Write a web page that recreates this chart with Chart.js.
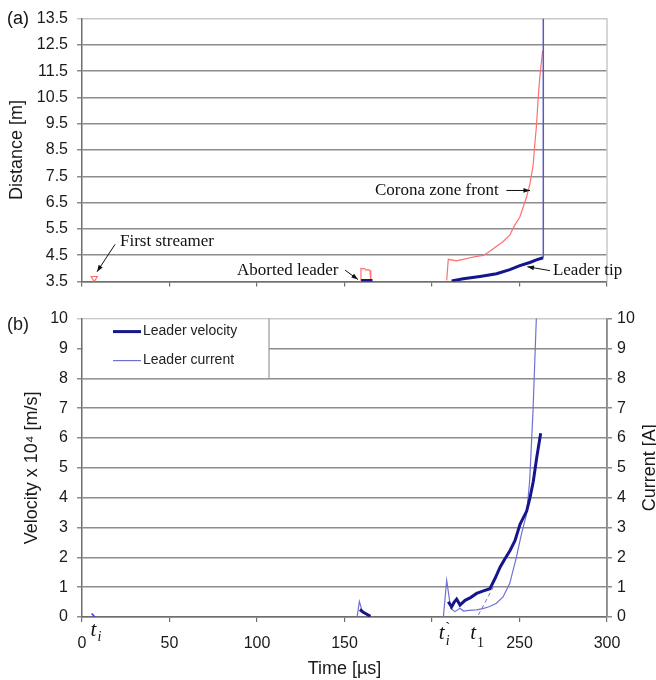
<!DOCTYPE html>
<html>
<head>
<meta charset="utf-8">
<script src="https://cdn.jsdelivr.net/npm/chart.js@4.4.1/dist/chart.umd.min.js"></script>
<style>
  body { margin: 0; background: #fff; width: 656px; height: 680px; overflow: hidden; position: relative; }
  canvas { position: absolute; left: 0; }
  #chartA { top: 0; }
  #chartB { top: 300px; }
</style>
</head>
<body>
<canvas id="chartA" width="656" height="300"></canvas>
<canvas id="chartB" width="656" height="380"></canvas>
<script>
// ---- panel (a): distance vs time ----
const timeTicks = [0, 50, 100, 150, 200, 250, 300];
const hiddenTimeLabels = [200]; // replaced by the t'i / t1 marks
const distTicks = [3.5, 4.5, 5.5, 6.5, 7.5, 8.5, 9.5, 10.5, 11.5, 12.5, 13.5];

const streamerT = [7];
const streamerD = [3.62];
const abortCoronaT = [159, 159.4, 160.2, 161.5, 162.3, 163.5, 164.6, 165];
const abortCoronaD = [3.5, 4.0, 3.98, 3.99, 3.93, 3.95, 3.92, 3.5];
const abortLeaderT = [159.5, 166];
const abortLeaderD = [3.53, 3.53];
const coronaT = [208.4, 209.3, 214.1, 217.9, 221.7, 225.5, 229.3, 233.1, 236.9, 240.7, 244.5, 247.3, 250.2, 254.0, 255.9, 257.8, 258.7, 259.7, 260.6, 261.6, 263.2];
const coronaD = [3.54, 4.34, 4.28, 4.34, 4.40, 4.45, 4.49, 4.65, 4.84, 5.02, 5.27, 5.64, 5.95, 6.70, 7.19, 7.93, 8.68, 9.42, 10.41, 11.28, 12.27];
const tipT = [211.2, 217.9, 227.4, 236.9, 244.5, 250.2, 255.9, 259.7, 263.5];
const tipD = [3.52, 3.60, 3.69, 3.79, 3.95, 4.10, 4.22, 4.32, 4.40];
const jumpT = [263.6, 263.6];
const jumpD = [4.40, 13.5];

// ---- panel (b): velocity and current vs time ----
const velTicks = [0, 1, 2, 3, 4, 5, 6, 7, 8, 9, 10];
const velAbortT = [158.8, 160.5, 162.5, 164.8];
const velAbortV = [0.25, 0.17, 0.10, 0.02];
const velT = [209.3, 211.2, 212.5, 214.1, 216.0, 218.9, 222.0, 225.5, 229.0, 233.1, 236.0, 238.9, 241.7, 244.6, 247.4, 250.3, 252.2, 254.1, 256.0, 257.9, 259.8, 262.1];
const velV = [0.51, 0.34, 0.48, 0.60, 0.40, 0.56, 0.65, 0.79, 0.87, 0.95, 1.29, 1.67, 1.95, 2.23, 2.56, 3.11, 3.33, 3.55, 4.00, 4.55, 5.33, 6.16];
const curBlipT = [5.5, 7.4];
const curBlipV = [0.12, 0.0];
const curAbortT = [157.2, 158.5, 160, 161];
const curAbortV = [0.0, 0.52, 0.22, 0.12];
const curT = [206.5, 208.4, 210.7, 213.1, 216.0, 217.9, 221.0, 225.5, 229.0, 233.0, 236.8, 240.6, 244.4, 248.2, 251.1, 254.0, 255.8, 257.7, 259.6, 260.2];
const curV = [0.0, 1.23, 0.29, 0.18, 0.29, 0.20, 0.22, 0.24, 0.28, 0.35, 0.46, 0.67, 1.12, 2.00, 2.78, 3.44, 4.55, 6.88, 9.98, 10.6];
const tangentT = [226.5, 235];
const tangentV = [0.07, 1.0];

const RED = '#ff6f6f';
const NAVY = '#16168c';
const THIN = '#7070d4';
const VERT = '#5858c8';
const GRID = '#8c8c8c';
const LIGHT = '#c8c8c8';
const AXIS = '#6e6e6e';
const SANS = '"Liberation Sans", Arial, sans-serif';
const SERIF = '"Liberation Serif", "Times New Roman", serif';

Chart.defaults.font.family = SANS;
Chart.defaults.color = '#1a1a1a';

function pts(xs, ys) {
    return xs.map((x, i) => ({ x: x, y: ys[i] }));
}

function arrow(ctx, x1, y1, x2, y2) {
    ctx.beginPath();
    ctx.moveTo(x1, y1);
    ctx.lineTo(x2, y2);
    ctx.stroke();
    const a = Math.atan2(y2 - y1, x2 - x1), h = 7;
    ctx.beginPath();
    ctx.moveTo(x2, y2);
    ctx.lineTo(x2 - h * Math.cos(a - 0.35), y2 - h * Math.sin(a - 0.35));
    ctx.lineTo(x2 - h * Math.cos(a + 0.35), y2 - h * Math.sin(a + 0.35));
    ctx.closePath();
    ctx.fill();
}

// text labels and arrows for panel (a)
const annotA = {
    id: 'annotA',
    afterDraw(chart) {
        const { ctx, chartArea, scales: { x, y } } = chart;
        const px = t => x.getPixelForValue(t), py = d => y.getPixelForValue(d);
        ctx.save();
        // right border
        ctx.strokeStyle = LIGHT;
        ctx.lineWidth = 1.5;
        ctx.beginPath();
        ctx.moveTo(chartArea.right, chartArea.top);
        ctx.lineTo(chartArea.right, chartArea.bottom);
        ctx.stroke();

        ctx.fillStyle = '#111';
        ctx.strokeStyle = '#111';
        ctx.lineWidth = 1;
        ctx.textBaseline = 'middle';
        ctx.font = '17px ' + SERIF;
        ctx.fillText('First streamer', px(21.7), py(5.02));
        arrow(ctx, px(18.9), py(4.91), px(8.6), py(3.87));
        ctx.fillText('Aborted leader', px(88.6), py(3.91));
        arrow(ctx, px(150.3), py(3.93), px(157.7), py(3.57));
        ctx.fillText('Corona zone front', px(167.4), py(6.96));
        arrow(ctx, px(242.5), py(6.96), px(256), py(6.96));
        ctx.fillText('Leader tip', px(269.1), py(3.91));
        arrow(ctx, px(267.4), py(3.91), px(254.5), py(4.06));

        ctx.font = '18px ' + SANS;
        ctx.fillText('(a)', 7, 19);
        ctx.restore();
    }
};

// legend, right title and t labels for panel (b)
const annotB = {
    id: 'annotB',
    afterDraw(chart) {
        const { ctx, chartArea, scales: { x } } = chart;
        const px = t => x.getPixelForValue(t);
        ctx.save();
        // right border
        ctx.strokeStyle = GRID;
        ctx.lineWidth = 1.5;
        ctx.beginPath();
        ctx.moveTo(chartArea.right, chartArea.top);
        ctx.lineTo(chartArea.right, chartArea.bottom);
        ctx.stroke();

        // legend box
        const lx = chartArea.left, ly = chartArea.top;
        ctx.fillStyle = '#fff';
        ctx.fillRect(lx + 1, ly + 1, 186, 59);
        ctx.strokeStyle = '#9a9a9a';
        ctx.lineWidth = 1.2;
        ctx.beginPath();
        ctx.moveTo(lx + 187, ly);
        ctx.lineTo(lx + 187, ly + 60);
        ctx.lineTo(lx, ly + 60);
        ctx.stroke();
        ctx.strokeStyle = NAVY;
        ctx.lineWidth = 3;
        ctx.beginPath();
        ctx.moveTo(lx + 31, ly + 13);
        ctx.lineTo(lx + 59, ly + 13);
        ctx.stroke();
        ctx.strokeStyle = THIN;
        ctx.lineWidth = 1.2;
        ctx.beginPath();
        ctx.moveTo(lx + 31, ly + 42);
        ctx.lineTo(lx + 59, ly + 42);
        ctx.stroke();
        ctx.fillStyle = '#222';
        ctx.font = '14px ' + SANS;
        ctx.textBaseline = 'middle';
        ctx.fillText('Leader velocity', lx + 61, ly + 13);
        ctx.fillText('Leader current', lx + 61, ly + 42);

        // right axis title, reading bottom to top
        ctx.font = '18px ' + SANS;
        ctx.fillStyle = '#1a1a1a';
        ctx.save();
        ctx.translate(650, (chartArea.top + chartArea.bottom) / 2);
        ctx.rotate(-Math.PI / 2);
        ctx.textAlign = 'center';
        ctx.fillText('Current [A]', 0, 0);
        ctx.restore();

        ctx.fillText('(b)', 7, 25);

        // t labels
        ctx.fillStyle = '#111';
        ctx.font = 'italic 21px ' + SERIF;
        ctx.fillText('t', px(4.8), 330);
        ctx.fillText('t', px(203.8), 333);
        ctx.fillText('t', px(221.8), 333);
        ctx.font = 'italic 14px ' + SERIF;
        ctx.fillText('i', px(8.8), 337);
        ctx.fillText('i', px(207.8), 341);
        ctx.font = '15px ' + SERIF;
        ctx.fillText('`', px(207.6), 328);
        ctx.font = '14px ' + SERIF;
        ctx.fillText('1', px(225.7), 343);
        ctx.restore();
    }
};

const tickSet = arr => s => { s.ticks = arr.map(v => ({ value: v })); };

new Chart(document.getElementById('chartA'), {
    type: 'line',
    data: {
        datasets: [
            { data: pts(jumpT, jumpD), borderColor: VERT, borderWidth: 1.5 },
            { data: pts(tipT, tipD), borderColor: NAVY, borderWidth: 3 },
            { data: pts(abortLeaderT, abortLeaderD), borderColor: NAVY, borderWidth: 3 },
            { data: pts(coronaT, coronaD), borderColor: RED, borderWidth: 1.2 },
            { data: pts(abortCoronaT, abortCoronaD), borderColor: RED, borderWidth: 1.2 },
            { data: pts(streamerT, streamerD), borderColor: RED, backgroundColor: '#fff', showLine: false,
              pointRadius: 3.5, pointStyle: 'triangle', pointRotation: 180, borderWidth: 1.2 }
        ]
    },
    options: {
        responsive: false,
        animation: false,
        elements: { point: { radius: 0 }, line: { tension: 0 } },
        layout: { padding: { top: 16, right: 49, left: 0, bottom: 0 } },
        plugins: { legend: { display: false }, tooltip: { enabled: false } },
        scales: {
            x: {
                type: 'linear', min: 0, max: 300,
                afterBuildTicks: tickSet(timeTicks),
                afterFit: s => { s.height = 14; },
                ticks: { display: false },
                grid: { drawOnChartArea: false, tickLength: 5, color: AXIS, lineWidth: 1.2 },
                border: { color: AXIS, width: 1.5 }
            },
            y: {
                min: 3.5, max: 13.5,
                afterBuildTicks: tickSet(distTicks),
                afterFit: s => { s.width = 82; },
                ticks: { callback: v => v.toFixed(1), font: { size: 16 }, padding: 9 },
                grid: { color: c => (c.tick && c.tick.value === 13.5 ? LIGHT : GRID), lineWidth: 1.5, tickLength: 5 },
                border: { color: AXIS, width: 1.5 },
                title: { display: true, text: 'Distance [m]', font: { size: 18 }, padding: { top: 6 } }
            }
        }
    },
    plugins: [annotA]
});

new Chart(document.getElementById('chartB'), {
    type: 'line',
    data: {
        datasets: [
            { data: pts(velT, velV), borderColor: NAVY, borderWidth: 3 },
            { data: pts(velAbortT, velAbortV), borderColor: NAVY, borderWidth: 3 },
            { data: pts(tangentT, tangentV), borderColor: THIN, borderWidth: 1, borderDash: [4, 3] },
            { data: pts(curT, curV), borderColor: THIN, borderWidth: 1.2, yAxisID: 'y1' },
            { data: pts(curAbortT, curAbortV), borderColor: THIN, borderWidth: 1.2, yAxisID: 'y1' },
            { data: pts(curBlipT, curBlipV), borderColor: '#3a3ae0', borderWidth: 1.5, yAxisID: 'y1' }
        ]
    },
    options: {
        responsive: false,
        animation: false,
        elements: { point: { radius: 0 }, line: { tension: 0 } },
        layout: { padding: { top: 16, right: 0, left: 0, bottom: 0 } },
        plugins: { legend: { display: false }, tooltip: { enabled: false } },
        scales: {
            x: {
                type: 'linear', min: 0, max: 300,
                afterBuildTicks: tickSet(timeTicks),
                afterFit: s => { s.height = 63; },
                ticks: {
                    font: { size: 16 }, padding: 12,
                    callback: v => (hiddenTimeLabels.includes(v) ? '' : v)
                },
                grid: { drawOnChartArea: false, tickLength: 5, color: AXIS, lineWidth: 1.2 },
                border: { color: AXIS, width: 1.5 },
                title: { display: true, text: 'Time [µs]', font: { size: 18 }, padding: { top: 0, bottom: 0 } }
            },
            y: {
                min: 0, max: 10,
                afterBuildTicks: tickSet(velTicks),
                afterFit: s => { s.width = 82; },
                ticks: { font: { size: 16 }, padding: 9 },
                grid: { color: c => (c.tick && c.tick.value === 10 ? LIGHT : GRID), lineWidth: 1.5, tickLength: 5 },
                border: { color: AXIS, width: 1.5 },
                title: { display: true, text: 'Velocity x 10⁴ [m/s]', font: { size: 18 }, padding: { top: 21 } }
            },
            y1: {
                position: 'right', min: 0, max: 10,
                afterBuildTicks: tickSet(velTicks),
                afterFit: s => { s.width = 49; },
                ticks: { font: { size: 16 }, padding: 5 },
                grid: { drawOnChartArea: false, color: GRID, lineWidth: 1.5, tickLength: 5 },
                border: { color: GRID, width: 1.5 }
            }
        }
    },
    plugins: [annotB]
});
</script>
</body>
</html>
